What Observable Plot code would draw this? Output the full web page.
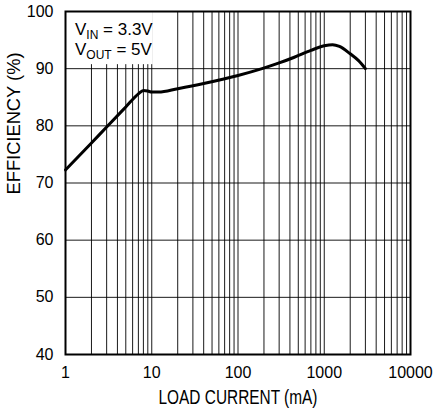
<!DOCTYPE html>
<html>
<head>
<meta charset="utf-8">
<script src="https://cdn.jsdelivr.net/npm/d3@7"></script>
<script src="https://cdn.jsdelivr.net/npm/@observablehq/plot@0.6"></script>
<style>
  html, body { margin: 0; padding: 0; background: #fff; }
  svg { display: block; }
</style>
</head>
<body>
<div id="chart"></div>
<script>
const loadCurrent = [1, 2, 3, 5, 7, 8, 9, 10, 12, 20, 40, 100, 190, 300, 450, 700, 1000, 1250, 1500, 2000, 2500, 3000];
const efficiency  = [72.3, 77.0, 79.8, 83.3, 85.6, 86.2, 86.1, 85.9, 85.9, 86.5, 87.4, 88.8, 90.0, 91.0, 92.0, 93.2, 94.0, 94.2, 93.9, 92.6, 91.4, 90.0];
const xTickLabels = [1, 10, 100, 1000, 10000];
const yTicks = [40, 50, 60, 70, 80, 90, 100];
const xGrid = [];
for (const d of [1, 10, 100, 1000]) for (let k = 1; k <= 9; k++) xGrid.push(d * k);
xGrid.push(10000);
const xLabel = "LOAD CURRENT (mA)";
const yLabel = "EFFICIENCY (%)";
const annot = [["V", "IN", " = 3.3V"], ["V", "OUT", " = 5V"]];

const data = loadCurrent.map((x, i) => ({x, y: efficiency[i]}));
const FONT = "'Liberation Sans', Arial, sans-serif";

const plot = Plot.plot({
  width: 435,
  height: 411,
  marginLeft: 65,
  marginRight: 25,
  marginTop: 11,
  marginBottom: 57,
  style: {fontFamily: FONT, fontSize: "16px", color: "#000", background: "#fff"},
  x: {type: "log", domain: [1, 10000]},
  y: {domain: [40, 100]},
  marks: [
    Plot.ruleX(xGrid, {stroke: "#000", strokeWidth: 1, strokeOpacity: 0.9}),
    Plot.ruleY(yTicks, {stroke: "#000", strokeWidth: 1, strokeOpacity: 0.9}),
    Plot.rect([0], {x1: 1, x2: 10.4, y1: 90.7, y2: 100, fill: "#fff"}),
    Plot.frame({stroke: "#000", strokeWidth: 2}),
    Plot.line(data, {x: "x", y: "y", stroke: "#000", strokeWidth: 3, curve: "monotone-x"}),
    Plot.axisX(xTickLabels, {tickSize: 0, tickPadding: 12, tickFormat: d => String(d), label: null, fontSize: 16}),
    Plot.axisY(yTicks, {tickSize: 0, tickPadding: 12, label: null, fontSize: 16}),
    Plot.text([xLabel], {frameAnchor: "bottom", dy: 43, text: d => d, fontSize: 20, lineAnchor: "middle", className: "xlab"}),
    Plot.text([yLabel], {frameAnchor: "left", dx: -52, dy: 11.5, rotate: -90, text: d => d, fontSize: 19, lineAnchor: "middle", className: "ylab"})
  ]
});

document.getElementById("chart").append(plot);

const svg = d3.select(plot);
// condensed look of the original lettering
svg.selectAll(".xlab text").attr("textLength", 159).attr("lengthAdjust", "spacingAndGlyphs");
svg.selectAll(".ylab text").attr("textLength", 142).attr("lengthAdjust", "spacingAndGlyphs");

// annotation with subscripts, positioned through the plot's scales
const sx = plot.scale("x"), sy = plot.scale("y");
const ax = sx.apply(1) + 10;
const baselines = [sy.apply(95.8), sy.apply(92.3)];
annot.forEach((parts, i) => {
  const t = svg.append("text")
    .attr("x", ax).attr("y", baselines[i])
    .attr("text-anchor", "start")
    .attr("font-family", FONT).attr("font-size", 17).attr("fill", "#000");
  t.append("tspan").text(parts[0]);
  t.append("tspan").attr("font-size", 12).attr("dy", 4).text(parts[1]);
  t.append("tspan").attr("dy", -4).text(parts[2]);
});
</script>
</body>
</html>
